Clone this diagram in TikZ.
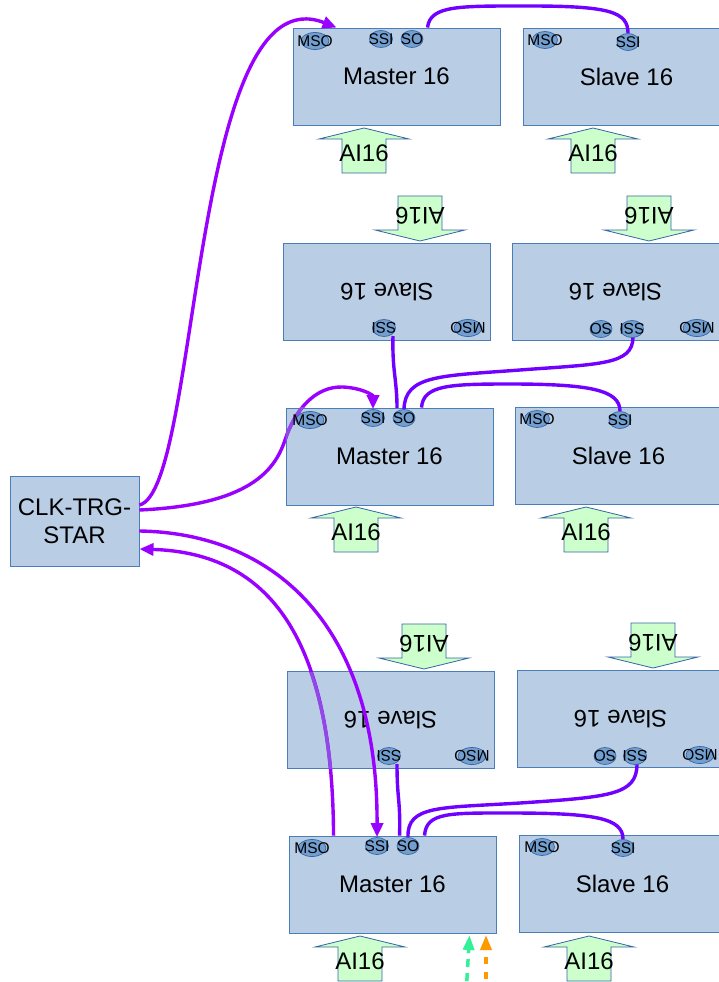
\documentclass[tikz,border=0pt]{standalone}
\usepackage{fontspec}
\setmainfont{Liberation Sans}
\usetikzlibrary{shapes.geometric,arrows.meta,calc}
\definecolor{boxfill}{RGB}{185,205,229}
\definecolor{boxline}{RGB}{74,126,187}
\definecolor{portfill}{RGB}{114,159,207}
\definecolor{portline}{RGB}{52,101,164}
\definecolor{aifill}{RGB}{204,255,204}
\definecolor{ailine}{RGB}{52,101,164}
\definecolor{clkcol}{RGB}{153,0,255}
\definecolor{clkdim}{RGB}{146,72,230}
\definecolor{linkcol}{RGB}{112,0,255}
\definecolor{dashgreen}{RGB}{51,240,153}
\definecolor{dashorange}{RGB}{255,153,0}
\pgfdeclarelayer{fg}
\pgfsetlayers{main,fg}
\newcommand\bigtxt{\fontsize{24}{28}\selectfont}
\newcommand\smalltxt{\fontsize{15.5}{18}\selectfont}
\newcommand\AIarrow[4]{%
  \begin{scope}[shift={(#2,#3)}, rotate=#4]
    \draw[aishape] (0,0) -- (45,11) -- (22,11) -- (22,45) -- (-22,45) -- (-22,11) -- (-45,11) -- cycle;
    \node[aitext, rotate=#4] (#1) at (0,25.5) {AI16};
  \end{scope}}
\tikzset{
  modbox/.style={rectangle, draw=boxline, fill=boxfill, line width=0.9pt, minimum width=207pt, minimum height=97pt, inner sep=0pt, font=\bigtxt},
  clkbox/.style={modbox, minimum width=129pt, minimum height=90pt, align=center},
  portnode/.style={ellipse, draw=portline, fill=portfill, line width=0.7pt, inner sep=0pt, minimum height=17pt, font=\smalltxt},
  aishape/.style={draw=ailine, fill=aifill, line width=0.8pt},
  aitext/.style={font=\bigtxt, inner sep=0pt},
  clkline/.style={draw=clkcol, line width=3.4pt},
  dimline/.style={draw=clkdim, line width=3.4pt},
  linkline/.style={draw=linkcol, line width=3.4pt},
  purplehead/.style={-{Triangle[length=14pt,width=12pt]}}
}
\begin{document}
\begin{tikzpicture}[x=1pt,y=-1pt]
\useasboundingbox (0,0) rectangle (719,982);
\clip (0,0) rectangle (719,982);

% modules
\node[modbox] (m1) at (396.5,76.5) {Master 16};
\node[modbox] (s1) at (626.5,76.5) {Slave 16};
\node[modbox, rotate=180] (s2a) at (387,292) {Slave 16};
\node[modbox, rotate=180] (s2b) at (615.5,292) {Slave 16};
\node[modbox] (m3) at (389.5,456.5) {Master 16};
\node[modbox] (s3) at (618.5,455.5) {Slave 16};
\node[modbox, rotate=180] (s4a) at (390.5,720) {Slave 16};
\node[modbox, rotate=180] (s4b) at (620.5,719) {Slave 16};
\node[modbox] (m5) at (392.5,884.5) {Master 16};
\node[modbox] (s5) at (622.5,883.5) {Slave 16};
\node[clkbox] (clk) at (74.5,521) {CLK-TRG-\\STAR};

% AI16 arrows
\AIarrow{a1}{364}{128}{0}
\AIarrow{a2}{593}{128}{0}
\AIarrow{a3}{420}{241}{180}
\AIarrow{a4}{649}{241}{180}
\AIarrow{a5}{356}{507}{0}
\AIarrow{a6}{586}{507}{0}
\AIarrow{a7}{424}{669}{180}
\AIarrow{a8}{653}{668}{180}
\AIarrow{a9}{360}{936}{0}
\AIarrow{a10}{589}{936}{0}

% ports
\begin{pgfonlayer}{fg}
\node[portnode, minimum width=28pt] (m1mso) at (315,41) {\makebox[0pt]{MSO}};
\node[portnode, minimum width=23pt] (m1ssi) at (381,39) {\makebox[0pt]{SSI}};
\node[portnode, minimum width=22pt] (m1so) at (412,39) {\makebox[0pt]{SO}};
\node[portnode, minimum width=25pt] (s1mso) at (545,40) {\makebox[0pt]{MSO}};
\node[portnode, minimum width=22pt] (s1ssi) at (628,42) {\makebox[0pt]{SSI}};

\node[portnode, minimum width=23pt, rotate=180] (s2assi) at (384,328) {\makebox[0pt]{SSI}};
\node[portnode, minimum width=28pt, rotate=180] (s2amso) at (468,328) {\makebox[0pt]{MSO}};
\node[portnode, minimum width=22pt, rotate=180] (s2bso) at (601,329) {\makebox[0pt]{SO}};
\node[portnode, minimum width=23pt, rotate=180] (s2bssi) at (632,329) {\makebox[0pt]{SSI}};
\node[portnode, minimum width=28pt, rotate=180] (s2bmso) at (697,328) {\makebox[0pt]{MSO}};

\node[portnode, minimum width=28pt] (m3mso) at (310,420) {\makebox[0pt]{MSO}};
\node[portnode, minimum width=23pt] (m3ssi) at (373,418) {\makebox[0pt]{SSI}};
\node[portnode, minimum width=22pt] (m3so) at (404,418) {\makebox[0pt]{SO}};
\node[portnode, minimum width=25pt] (s3mso) at (537,419) {\makebox[0pt]{MSO}};
\node[portnode, minimum width=22pt] (s3ssi) at (620,420) {\makebox[0pt]{SSI}};

\node[portnode, minimum width=23pt, rotate=180] (s4assi) at (389,756) {\makebox[0pt]{SSI}};
\node[portnode, minimum width=28pt, rotate=180] (s4amso) at (472,756) {\makebox[0pt]{MSO}};
\node[portnode, minimum width=22pt, rotate=180] (s4bso) at (605,756) {\makebox[0pt]{SO}};
\node[portnode, minimum width=23pt, rotate=180] (s4bssi) at (635,756) {\makebox[0pt]{SSI}};
\node[portnode, minimum width=28pt, rotate=180] (s4bmso) at (700,755) {\makebox[0pt]{MSO}};

\node[portnode, minimum width=28pt] (m5mso) at (312,848) {\makebox[0pt]{MSO}};
\node[portnode, minimum width=23pt] (m5ssi) at (377,846) {\makebox[0pt]{SSI}};
\node[portnode, minimum width=22pt] (m5so) at (408,846) {\makebox[0pt]{SO}};
\node[portnode, minimum width=25pt] (s5mso) at (542,847) {\makebox[0pt]{MSO}};
\node[portnode, minimum width=22pt] (s5ssi) at (623,848) {\makebox[0pt]{SSI}};
\end{pgfonlayer}

% CLK connectors
\draw[clkline, purplehead] ($(clk.east)+(0,-16)$) .. controls +(61,-15) and +(-147,-58) .. ($(m1.north west)+(44,0)$);
\draw[clkline, purplehead] ($(clk.east)+(0,-11)$) .. controls (250,505) and (275,470) .. (285,440) .. controls (295,410) and (315,386) .. (343,387) .. controls (362,388) and (373,395) .. (m3ssi.north);
\draw[clkline, purplehead] ($(clk.east)+(0,10)$) .. controls +(130,2) and +(1,-217) .. (m5ssi.north);
\draw[clkline, purplehead] ($(m5.north west)+(45,0)$) .. controls +(-1,-196) and +(131,4) .. ($(clk.east)+(0,28)$);

% module links
\draw[linkline] ($(m1.north west)+(135,0)$) .. controls (430,5) and (460,6) .. (530,6) .. controls (610,6) and (628,12) .. (s1ssi.north);
\draw[linkline] ($(s2assi.center)+(9,8)$) .. controls +(-1,34) and +(0,-28) .. ($(m3so.center)+(-7,-10)$);
\draw[linkline] (m3so.north) .. controls (405,375) and (440,376) .. (520,370) .. controls (600,364) and (633,365) .. ($(s2bssi.center)+(1,8)$);
\draw[linkline] ($(m3.north west)+(136,0)$) .. controls (423,385) and (450,384) .. (510,384) .. controls (590,384) and (620,390) .. (s3ssi.north);
\draw[linkline] ($(s4assi.center)+(8,8)$) .. controls +(0,36) and +(1,-36) .. ($(m5.north west)+(111,0)$);
\draw[linkline] (m5so.north) .. controls (407,805) and (440,808) .. (520,803) .. controls (610,797) and (637,795) .. ($(s4bssi.center)+(2,8)$);
\draw[linkline] ($(m5.north west)+(136,0)$) .. controls (426,812) and (450,813) .. (510,813) .. controls (595,813) and (623,818) .. (s5ssi.north);

% parts of lines seen through boxes
\begin{scope}
\clip (m3.north west) rectangle ($(m3.south west)+(40,0)$);
\draw[dimline] ($(clk.east)+(0,-11)$) .. controls (250,505) and (275,470) .. (285,440) .. controls (295,410) and (315,386) .. (343,387);
\end{scope}
\begin{scope}
\clip ($(s4a.center)+(-103.5,-48)$) rectangle ($(s4a.center)+(103.5,48)$);
\draw[dimline] ($(m5.north west)+(45,0)$) .. controls +(-1,-196) and +(131,4) .. ($(clk.east)+(0,28)$);
\end{scope}

% dashed trigger arrows
\coordinate (gA) at (466,995);
\coordinate (gB) at (469.5,935);
\coordinate (oA) at (486,994);
\coordinate (oB) at (486,935);
\draw[draw=dashgreen, line width=3.5pt, dash pattern=on 8pt off 6pt, -{Triangle[length=15pt,width=11pt]}] (gA) -- (gB);
\draw[draw=dashorange, line width=3.5pt, dash pattern=on 7pt off 8pt, -{Triangle[length=15pt,width=11pt]}] (oA) -- (oB);
\end{tikzpicture}
\end{document}
